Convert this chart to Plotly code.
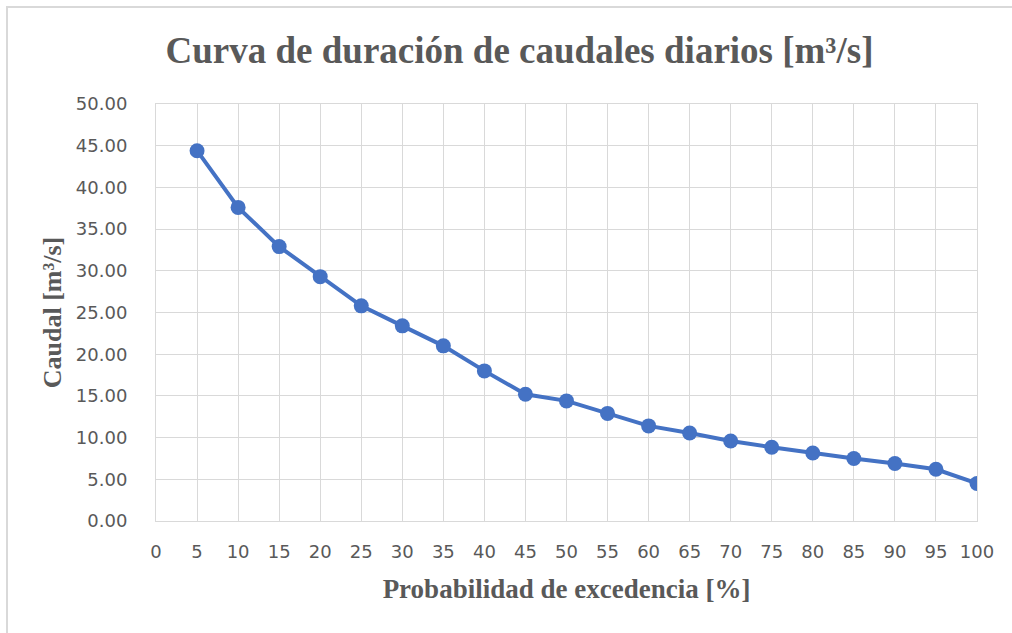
import plotly.graph_objects as go

# Curva de duración de caudales diarios
probabilidad = [5, 10, 15, 20, 25, 30, 35, 40, 45, 50, 55, 60, 65, 70, 75, 80, 85, 90, 95, 100]
caudal = [44.4, 37.6, 32.9, 29.3, 25.8, 23.4, 21.0, 18.0, 15.2, 14.4,
          12.9, 11.4, 10.55, 9.6, 8.85, 8.15, 7.5, 6.9, 6.2, 4.5]

GRIS = "#595959"
GRID = "#d9d9d9"
AZUL = "#4472C4"

fig = go.Figure()
fig.add_trace(go.Scatter(x=probabilidad, y=caudal, mode="lines+markers",
                         line=dict(color=AZUL, width=4),
                         marker=dict(color=AZUL, size=15)))

# marco del gráfico (estilo Excel)
fig.add_shape(type="rect", xref="paper", yref="paper",
              x0=-0.1815, x1=1.2, y0=-0.5, y1=1.2326,
              line=dict(color=GRID, width=2), layer="below")

fig.update_layout(
    width=1012, height=633,
    paper_bgcolor="white", plot_bgcolor="white",
    margin=dict(l=156, r=35, t=104, b=112),
    showlegend=False,
    title=dict(text="Curva de duración de caudales diarios [m³/s]",
               x=519.5 / 1012, xanchor="center", y=1 - 50 / 633, yanchor="middle",
               font=dict(family="Liberation Serif", size=37, color=GRIS, weight="bold")),
    xaxis=dict(range=[0, 100], dtick=5, tick0=0, showgrid=True, gridcolor=GRID,
               showline=True, linecolor=GRID, mirror=True, zeroline=False,
               ticks="", ticklabelstandoff=14,
               tickfont=dict(family="DejaVu Sans", size=18, color=GRIS),
               title=dict(text="Probabilidad de excedencia [%]", standoff=18,
                          font=dict(family="Liberation Serif", size=27, color=GRIS, weight="bold"))),
    yaxis=dict(range=[0, 50], dtick=5, tick0=0, tickformat=".2f", showgrid=True, gridcolor=GRID,
               showline=True, linecolor=GRID, mirror=True, zeroline=False,
               ticks="", ticklabelstandoff=24,
               tickfont=dict(family="DejaVu Sans", size=18, color=GRIS),
               title=dict(text="Caudal [m³/s]", standoff=6,
                          font=dict(family="Liberation Serif", size=26, color=GRIS, weight="bold"))),
)

fig.write_html("out.html", config={"displayModeBar": False},
               post_script="document.body.style.margin='0';")
